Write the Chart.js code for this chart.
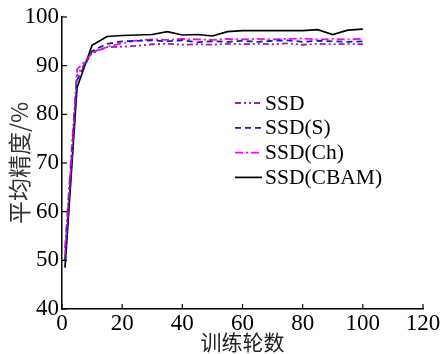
<!DOCTYPE html>
<html><head><meta charset="utf-8">
<script src="https://cdn.jsdelivr.net/npm/chart.js@4"></script>
<style>html,body{margin:0;padding:0;background:#fff;}canvas{display:block;}</style>
</head><body>
<canvas id="c" width="443" height="354"></canvas>
<script>
const epochs = [1,5,10,15,20,25,30,35,40,45,50,55,60,65,70,75,80,85,90,95,100];
const cbam  = [48.5,85.5,94.2,96.0,96.2,96.3,96.4,97.0,96.3,96.4,96.1,97.0,97.2,97.2,97.2,97.2,97.2,97.4,96.4,97.3,97.5];
const ssd   = [51.0,88.0,92.8,93.8,93.9,94.1,94.4,94.5,94.3,94.4,94.3,94.5,94.4,94.5,94.4,94.6,94.3,94.5,94.4,94.5,94.4];
const ssdS  = [50.0,87.0,93.0,94.5,95.0,95.1,95.2,95.0,95.2,94.8,95.0,94.9,95.1,94.9,95.1,95.2,94.9,95.1,95.0,94.9,95.0];
const ssdCh = [52.5,89.2,92.5,93.9,94.6,95.2,95.4,95.3,95.5,95.4,95.3,95.5,95.4,95.5,95.4,95.5,95.6,95.4,95.5,95.4,95.5];
const seriesNames = ['SSD','SSD(S)','SSD(Ch)','SSD(CBAM)'];
const xTicks = [0,20,40,60,80,100,120];
const yTicks = [40,50,60,70,80,90,100];
const xTitle = '训练轮数';
const yTitle = '平均精度/%';

const pts = arr => arr.map((v,i)=>({x:epochs[i], y:v}));
const serif = "'Liberation Serif','Times New Roman',serif";
const cjk = "'Noto Sans CJK SC',sans-serif";

const styles = [
  {color:'#8e2a9c', dash:[6,3,2,3,2,3], w:1.8},
  {color:'#1a1aa6', dash:[6,4], w:1.8},
  {color:'#ff00ff', dash:[8,3,2,3], w:1.8},
  {color:'#000000', dash:[], w:1.7}
];
const seriesData = [ssd, ssdS, ssdCh, cbam];

const inwardTicks = {
  id:'inwardTicks',
  afterDraw(chart){
    const ctx = chart.ctx, xs = chart.scales.x, ys = chart.scales.y;
    ctx.save();
    ctx.strokeStyle = '#000'; ctx.lineWidth = 1.2;
    xTicks.forEach(t=>{
      const px = xs.getPixelForValue(t);
      ctx.beginPath(); ctx.moveTo(px, ys.bottom); ctx.lineTo(px, ys.bottom-5); ctx.stroke();
    });
    yTicks.forEach(t=>{
      const py = ys.getPixelForValue(t);
      ctx.beginPath(); ctx.moveTo(xs.left, py); ctx.lineTo(xs.left+5, py); ctx.stroke();
    });
    ctx.restore();
  }
};

const legendPlugin = {
  id:'customLegend',
  afterDraw(chart){
    const ctx = chart.ctx;
    ctx.save();
    ctx.font = "21.5px " + serif;
    ctx.textBaseline = 'middle';
    ctx.fillStyle = '#000';
    const x0 = 235, x1 = 262, tx = 265, y0 = 103, dy = 24.8;
    chart.data.datasets.forEach((ds,i)=>{
      const y = y0 + i*dy;
      ctx.strokeStyle = ds.borderColor;
      ctx.lineWidth = ds.borderWidth;
      ctx.setLineDash(ds.borderDash || []);
      ctx.beginPath(); ctx.moveTo(x0,y); ctx.lineTo(x1,y); ctx.stroke();
      ctx.setLineDash([]);
      ctx.fillText(ds.label, tx, y+1);
    });
    ctx.restore();
  }
};

new Chart(document.getElementById('c'), {
  type:'line',
  data:{
    datasets: seriesNames.map((n,i)=>({
      label:n,
      data:pts(seriesData[i]),
      borderColor:styles[i].color,
      backgroundColor:styles[i].color,
      borderDash:styles[i].dash,
      borderWidth:styles[i].w,
      pointRadius:0,
      tension:0,
      fill:false
    }))
  },
  options:{
    responsive:false,
    devicePixelRatio:1,
    animation:false,
    layout:{padding:{top:17,right:20,left:0,bottom:0}},
    plugins:{legend:{display:false}, tooltip:{enabled:false}},
    scales:{
      x:{
        type:'linear', min:0, max:120,
        afterBuildTicks(s){ s.ticks = xTicks.map(v=>({value:v})); },
        ticks:{font:{family:serif,size:23}, color:'#000', padding:1, maxRotation:0},
        grid:{display:false, drawTicks:false},
        border:{display:true, color:'#000', width:1.5},
        title:{display:true, text:xTitle, font:{family:cjk,size:21,lineHeight:1}, color:'#222', padding:{top:0,bottom:1}},
        afterFit(s){ s.height = 45; }
      },
      y:{
        min:40, max:100,
        afterBuildTicks(s){ s.ticks = yTicks.map(v=>({value:v})); },
        ticks:{font:{family:serif,size:23}, color:'#000', padding:3},
        grid:{display:false, drawTicks:false},
        border:{display:true, color:'#000', width:1.5},
        title:{display:true, text:yTitle, font:{family:cjk,size:23,lineHeight:1}, color:'#333', padding:{top:8,bottom:0}},
        afterFit(s){ s.width = 62; }
      }
    }
  },
  plugins:[inwardTicks, legendPlugin]
});
</script>
</body></html>
